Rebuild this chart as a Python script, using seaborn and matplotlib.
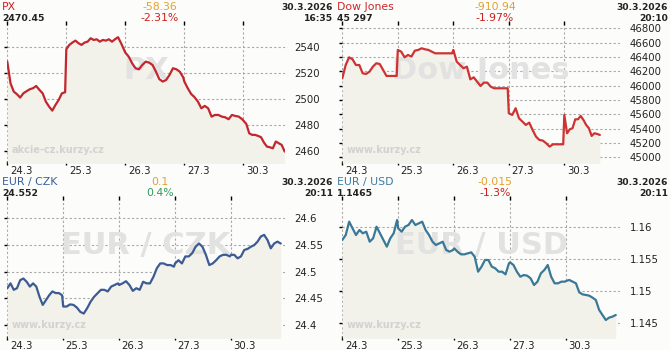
import numpy as np
import pandas as pd
import matplotlib
matplotlib.use("Agg")
import matplotlib.pyplot as plt
import matplotlib.transforms as mtrans
import seaborn as sns

# ---------------- data ----------------
day_labels = ["24.3", "25.3", "26.3", "27.3", "30.3"]

# PX index, values per trading day
px_days = [
    [2528.5, 2511.9, 2505.5, 2503.5, 2500.9, 2504.2, 2505.8, 2507.3, 2508.1, 2509.8,
     2506.8, 2504.2, 2497.8, 2494.0, 2490.9, 2495.3, 2499.1, 2504.2, 2505.0],
    [2538.0, 2541.3, 2543.1, 2544.6, 2542.6, 2541.3, 2543.1, 2543.8, 2546.4, 2545.1,
     2545.6, 2543.8, 2545.1, 2544.6, 2545.6, 2543.8, 2545.6, 2547.2, 2542.6, 2537.4],
    [2535.4, 2532.3, 2527.2, 2523.4, 2522.6, 2525.9, 2528.5, 2527.7, 2525.9, 2520.8,
     2515.0, 2513.2, 2514.4, 2518.3, 2523.4, 2522.6, 2520.8, 2516.5],
    [2513.2, 2508.1, 2503.7, 2501.2, 2497.8, 2492.7, 2494.5, 2492.7, 2486.3, 2487.6,
     2487.6, 2486.3, 2485.8, 2484.3, 2487.6, 2486.8, 2486.3, 2484.3],
    [2483.3, 2480.7, 2473.5, 2472.3, 2472.3, 2471.5, 2470.5, 2466.4, 2463.3, 2462.8,
     2462.0, 2467.2, 2465.9, 2464.6, 2459.5],
]
px_last_time = 4.70
px_yticks = [2460, 2480, 2500, 2520, 2540]

dow_days = [
    [46102, 46288, 46395, 46368, 46288, 46288, 46172, 46163, 46195, 46265, 46312, 46302,
     46219, 46135, 46135, 46135, 46135],
    [46498, 46474, 46395, 46428, 46405, 46488, 46498, 46521, 46507, 46498, 46474, 46451,
     46451, 46451, 46451, 46451, 46451],
    [46498, 46335, 46288, 46242, 46265, 46088, 46116, 46056, 45995, 46042, 46042, 45986,
     45963, 45963, 45963, 45963, 45963],
    [45614, 45591, 45684, 45544, 45498, 45451, 45484, 45381, 45288, 45242, 45233, 45195,
     45149, 45181, 45181, 45181, 45181],
    [45591, 45335, 45391, 45405, 45530, 45530, 45577, 45521, 45451, 45405, 45298, 45335,
     45326, 45312],
]
dow_last_time = 4.64
dow_yticks = [45000, 45200, 45400, 45600, 45800, 46000, 46200, 46400, 46600, 46800]

czk_days = [
    [24.469, 24.478, 24.466, 24.469, 24.484, 24.487, 24.481, 24.472, 24.478, 24.472,
     24.453, 24.438, 24.447, 24.456, 24.463, 24.460, 24.460, 24.456],
    [24.435, 24.435, 24.439, 24.438, 24.433, 24.425, 24.422, 24.432, 24.444, 24.453,
     24.4595, 24.466, 24.466, 24.463, 24.472, 24.475, 24.478],
    [24.475, 24.478, 24.482, 24.475, 24.464, 24.469, 24.466, 24.481, 24.478, 24.478,
     24.490, 24.506, 24.515, 24.515, 24.512, 24.512, 24.509],
    [24.515, 24.521, 24.515, 24.528, 24.528, 24.534, 24.546, 24.552, 24.546, 24.531,
     24.512, 24.515, 24.521, 24.528, 24.531, 24.531, 24.528],
    [24.531, 24.531, 24.5245, 24.528, 24.540, 24.542, 24.546, 24.549, 24.5555, 24.565,
     24.568, 24.5585, 24.543, 24.552, 24.5555, 24.552],
]
czk_last_time = 4.89
czk_yticks = [24.4, 24.45, 24.5, 24.55, 24.6]

usd_days = [
    [1.15801, 1.15879, 1.16089, 1.15984, 1.15879, 1.15958, 1.15906, 1.15932, 1.15774,
     1.15827, 1.16010, 1.15906, 1.15801, 1.15696, 1.15827, 1.15906, 1.16115],
    [1.15984, 1.15932, 1.16010, 1.16037, 1.16115, 1.16037, 1.16063, 1.16089, 1.15958,
     1.15879, 1.15774, 1.15722, 1.15748, 1.15774, 1.15643, 1.15617, 1.15643],
    [1.15669, 1.15617, 1.15575, 1.15575, 1.15591, 1.15606, 1.15538, 1.15302, 1.15381,
     1.15486, 1.15486, 1.15381, 1.15355, 1.15302, 1.15302, 1.15260, 1.15433],
    [1.15449, 1.15407, 1.15302, 1.15223, 1.15249, 1.15239, 1.15197, 1.15092, 1.15145,
     1.15276, 1.15328, 1.15407, 1.15223, 1.15119, 1.15119, 1.15145, 1.15145],
    [1.15155, 1.15171, 1.15145, 1.15119, 1.14977, 1.14945, 1.14935, 1.14924, 1.14893,
     1.14856, 1.14699, 1.14620, 1.14541, 1.14578, 1.14594, 1.14620],
]
usd_last_time = 4.89
usd_yticks = [1.145, 1.15, 1.155, 1.16]

# header texts
titles = ["PX", "Dow Jones", "EUR / CZK", "EUR / USD"]
last_values = ["2470.45", "45 297", "24.552", "1.1465"]
changes = ["-58.36", "-910.94", "0.1", "-0.015"]
pct_changes = ["-2.31%", "-1.97%", "0.4%", "-1.3%"]
dates = ["30.3.2026", "30.3.2026", "30.3.2026", "30.3.2026"]
times = ["16:35", "20:10", "20:11", "20:11"]
watermarks = ["PX", "Dow Jones", "EUR / CZK", "EUR / USD"]
sites = ["akcie-cz.kurzy.cz", "www.kurzy.cz", "www.kurzy.cz", "www.kurzy.cz"]


def build_frame(days, last_time):
    ts, vs = [], []
    for d, vals in enumerate(days):
        n = len(vals)
        span = 0.98 if d < len(days) - 1 else (last_time - d)
        ts.extend(d + np.linspace(0, span, n))
        vs.extend(vals)
    return pd.DataFrame({"t": ts, "v": vs})


panels = [
    dict(df=build_frame(px_days, px_last_time), yt=px_yticks, ylab=[str(v) for v in px_yticks],
         ylim=(2450.5, 2558.1), xlim=(0, 4.706), line="#c1272d", tcol="#cc1f1f",
         pcol="#cc2020", col=0, row=0),
    dict(df=build_frame(dow_days, dow_last_time), yt=dow_yticks, ylab=[str(v) for v in dow_yticks],
         ylim=(44916, 46874), xlim=(0, 5.003), line="#cc3333", tcol="#cc2a2a",
         pcol="#cc2020", col=1, row=0),
    dict(df=build_frame(czk_days, czk_last_time), yt=czk_yticks,
         ylab=["24.4", "24.45", "24.5", "24.55", "24.6"],
         ylim=(24.376, 24.6365), xlim=(0, 4.966), line="#3d5b93", tcol="#3a5f9a",
         pcol="#2e9a5c", col=0, row=1),
    dict(df=build_frame(usd_days, usd_last_time), yt=usd_yticks,
         ylab=["1.145", "1.15", "1.155", "1.16"],
         ylim=(1.14253, 1.16462), xlim=(0, 4.966), line="#3a7898", tcol="#3d7aa3",
         pcol="#cc2020", col=1, row=1),
]

# ---------------- style ----------------
sns.set_style("white")
plt.rcParams["font.family"] = ["DejaVu Sans"]

W, H = 670, 350
BG = "#fcfcfa"
FILL = "#f2f2ea"
GRID = "#a8a8a8"
ORANGE = "#e3a030"

fig = plt.figure(figsize=(W / 100, H / 100), dpi=100, facecolor=BG)


def fx(px):
    return px / W


def fy(py):
    return 1 - py / H


for i, p in enumerate(panels):
    ox = 335 * p["col"]
    oy = 175 * p["row"]
    left, right, top, bottom = ox + 7.3, ox + 285, oy + 23, oy + 163.3
    ax = fig.add_axes([fx(left), fy(bottom), fx(right - left), (bottom - top) / H])
    ax.set_facecolor(BG)
    df = p["df"]
    ax.fill_between(df["t"], df["v"], p["ylim"][0], color=FILL, lw=0, zorder=1)
    ax.text(0.5, 0.66, watermarks[i], transform=ax.transAxes, ha="center", va="center",
            fontsize=22, fontweight="bold", color="#e2e2e2", zorder=2)
    ax.text(0.017, 0.095, sites[i], transform=ax.transAxes, ha="left", va="center",
            fontsize=7, fontweight="bold", color="#d2d2d2", zorder=2)
    sns.lineplot(data=df, x="t", y="v", ax=ax, color=p["line"], linewidth=1.6,
                 estimator=None, zorder=4)
    ax.set_xlim(*p["xlim"])
    ax.set_ylim(*p["ylim"])
    ax.set_xlabel("")
    ax.set_ylabel("")
    for s in ax.spines.values():
        s.set_visible(False)
    ax.set_xticks(range(len(day_labels)))
    ax.set_xticklabels(day_labels, ha="left", fontsize=7.3, color="#222222")
    ax.set_yticks(p["yt"])
    ax.set_yticklabels(p["ylab"], fontsize=7.3, color="#222222")
    ax.yaxis.tick_right()
    ax.tick_params(axis="y", which="both", right=False, left=True, labelleft=False,
                   labelright=True, length=2, width=1, color="black", pad=5)
    ax.tick_params(axis="x", which="both", bottom=True, top=True, direction="inout",
                   length=3, width=1, color="black", pad=0.3)
    off = mtrans.ScaledTranslation(2.5 / 100, 0, fig.dpi_scale_trans)
    for lab in ax.get_xticklabels():
        lab.set_transform(lab.get_transform() + off)
    ax.grid(True, color=GRID, linestyle=(0, (2, 2)), linewidth=0.8, zorder=0)
    ax.set_axisbelow(True)

    # header
    fig.text(fx(ox + 2), fy(oy + 10.3), titles[i], ha="left", va="baseline",
             fontsize=7.8, color=p["tcol"])
    fig.text(fx(ox + 2), fy(oy + 20.7), last_values[i], ha="left", va="baseline",
             fontsize=6.7, fontweight="bold", color="#222222")
    fig.text(fx(ox + 160), fy(oy + 10.3), changes[i], ha="center", va="baseline",
             fontsize=7.8, color=ORANGE)
    fig.text(fx(ox + 160), fy(oy + 20.7), pct_changes[i], ha="center", va="baseline",
             fontsize=7.8, color=p["pcol"])
    fig.text(fx(ox + 333), fy(oy + 10.3), dates[i], ha="right", va="baseline",
             fontsize=6.6, fontweight="bold", color="#222222")
    fig.text(fx(ox + 333), fy(oy + 20.7), times[i], ha="right", va="baseline",
             fontsize=6.6, fontweight="bold", color="#222222")

fig.savefig("out.png", dpi=100, facecolor=BG)
